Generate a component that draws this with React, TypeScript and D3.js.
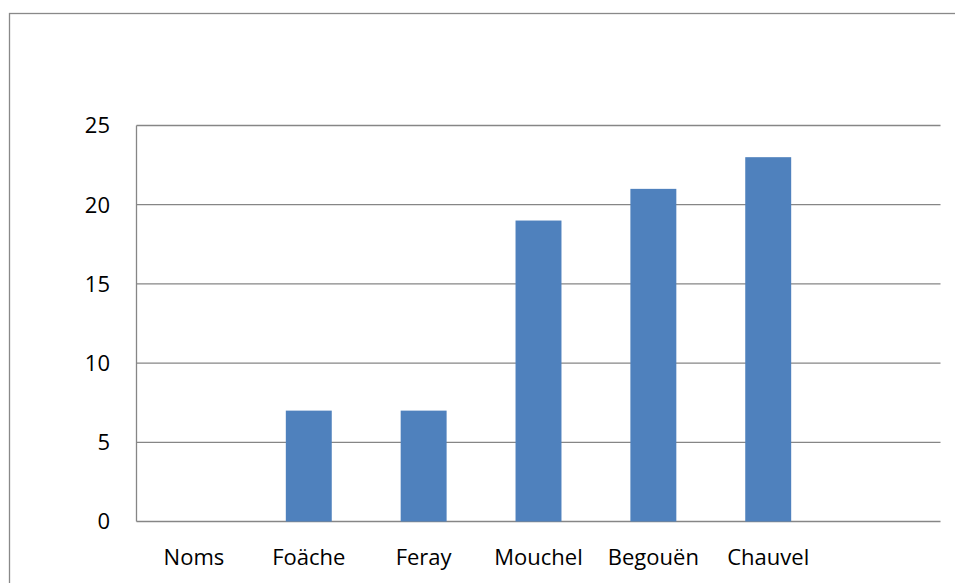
import React from "react";
import * as d3 from "d3";

const categories: string[] = ["Noms", "Foäche", "Feray", "Mouchel", "Begouën", "Chauvel", ""];
const values: (number | null)[] = [null, 7, 7, 19, 21, 23, null];
const yTicks: number[] = [0, 5, 10, 15, 20, 25];

const W = 955;
const H = 583;
const plot = { left: 136.5, right: 940.5, top: 125.5, bottom: 521.5 };
const font = "'Open Sans', sans-serif";
const grid = "#868686";
const barColor = "#4F81BD";

export default function App() {
  const x = d3
    .scaleBand<string>()
    .domain(categories.map((c, i) => `${i}`))
    .range([plot.left, plot.right])
    .paddingInner(0.6)
    .paddingOuter(0.3);
  const slot = d3
    .scaleBand<string>()
    .domain(categories.map((c, i) => `${i}`))
    .range([plot.left, plot.right]);
  const y = d3.scaleLinear().domain([0, 25]).range([plot.bottom, plot.top]);

  return (
    <svg
      width={W}
      height={H}
      style={{ position: "absolute", left: 0, top: 0, background: "#fff" }}
    >
      <rect x={9.5} y={13.5} width={960} height={600} fill="#fff" stroke="#898989" strokeWidth={1.3} />
      {yTicks.map((t) => (
        <g key={t}>
          <line x1={plot.left} x2={plot.right} y1={y(t)} y2={y(t)} stroke={grid} strokeWidth={1.3} />
          <text
            x={110}
            y={y(t)}
            dy="0.36em"
            textAnchor="end"
            fontFamily={font}
            fontSize={22}
            fill="#000"
          >
            {t}
          </text>
        </g>
      ))}
      <line x1={plot.left} x2={plot.left} y1={plot.top} y2={plot.bottom} stroke={grid} strokeWidth={1.3} />
      {values.map((v, i) =>
        v == null ? null : (
          <rect
            key={i}
            x={x(`${i}`)!}
            y={y(v)}
            width={x.bandwidth()}
            height={y(0) - y(v)}
            fill={barColor}
          />
        )
      )}
      {categories.map((c, i) => (
        <text
          key={i}
          x={slot(`${i}`)! + slot.bandwidth() / 2}
          y={565}
          textAnchor="middle"
          fontFamily={font}
          fontSize={22}
          fill="#000"
        >
          {c}
        </text>
      ))}
    </svg>
  );
}
